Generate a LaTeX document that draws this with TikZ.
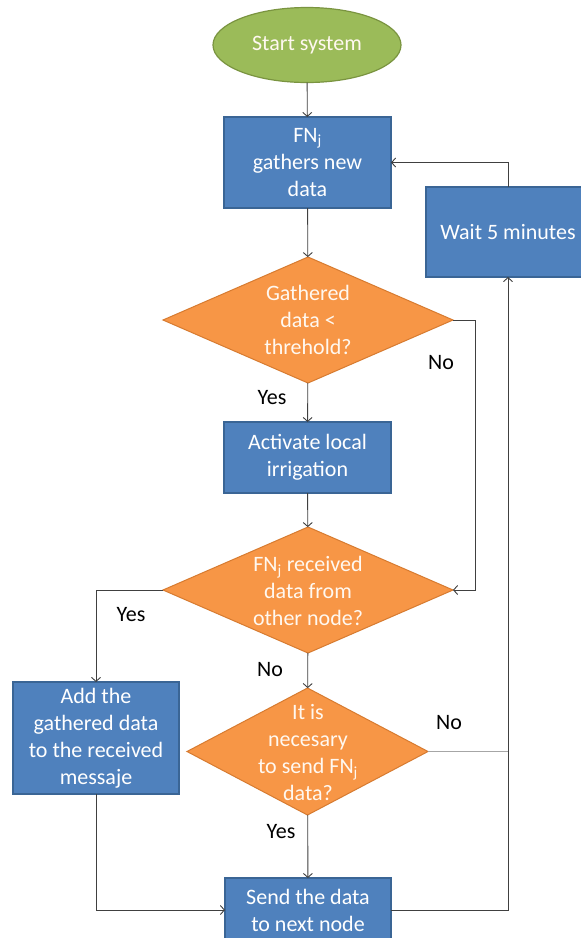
\documentclass[tikz,border=0pt]{standalone}
\usepackage{fontspec}
\setmainfont{Carlito}
\usetikzlibrary{shapes.geometric,arrows.meta}
\definecolor{boxblue}{HTML}{4F81BD}
\definecolor{boxblueline}{HTML}{3A6595}
\definecolor{diaorange}{HTML}{F79646}
\definecolor{diaorangeline}{HTML}{D77B30}
\definecolor{startgreen}{HTML}{9BBB59}
\definecolor{startgreenline}{HTML}{7A9440}
\definecolor{wire}{HTML}{404040}
\definecolor{lighttext}{HTML}{FFF8F0}
\tikzset{
  basefont/.style={font={\fontsize{22}{27}\selectfont}},
  procbox/.style={rectangle, draw=boxblueline, line width=1.2pt, fill=boxblue, text=white, align=center, inner sep=0pt, outer sep=0pt, basefont},
  decision/.style={diamond, draw=diaorangeline, line width=1pt, fill=diaorange, inner sep=0pt, outer sep=0pt},
  dtext/.style={text=lighttext, align=center, inner sep=0pt, basefont},
  startnode/.style={ellipse, draw=startgreenline, line width=1.2pt, fill=startgreen, text=lighttext, inner sep=0pt, outer sep=0pt, basefont},
  flow/.style={draw=wire, line width=0.9pt, -{Straight Barb[length=4pt,width=9pt]}},
  plainflow/.style={draw=wire, line width=0.9pt},
  lbl/.style={text=black, inner sep=0pt, basefont}
}
\begin{document}
\begin{tikzpicture}[x=1pt,y=-1pt]
\useasboundingbox (0,0) rectangle (581,938);
\clip (0,0) rectangle (581,938);
\fill[white] (0,0) rectangle (581,938);

\node[startnode, minimum width=188pt, minimum height=75pt] (start) at (307,45) {Start system};
\node[procbox, minimum width=167pt, minimum height=91pt] (gather) at (307.5,162.5) {FN\textsubscript{j}\\gathers new\\data};
\node[procbox, minimum width=164pt, minimum height=90pt] (wait) at (508,232) {Wait 5 minutes};

\node[decision, minimum width=290pt, minimum height=126pt] (d1) at (308,320) {};
\node[dtext] (d1t) at (d1) {Gathered\\data <\\threhold?};

\node[procbox, minimum width=167pt, minimum height=71pt] (act) at (307.5,457.5) {Activate local\\irrigation};

\node[decision, minimum width=290pt, minimum height=126pt] (d2) at (308,590) {};
\node[dtext] (d2t) at (308,591) {FN\textsubscript{j} received\\data from\\other node?};

\node[procbox, minimum width=166pt, minimum height=112pt] (add) at (96,738) {Add the\\gathered data\\to the received\\messaje};

\node[decision, minimum width=241pt, minimum height=127pt] (d3) at (307.5,751.5) {};
\node[dtext] (d3t) at (308,753) {It is\\necesary\\to send FN\textsubscript{j}\\data?};

\node[procbox, minimum width=166pt, minimum height=64pt] (send) at (308,910) {Send the data\\to next node};

% connectors
\draw[flow] (start) -- (gather);
\draw[flow] (gather) -- (d1);
\draw[flow] (d1) -- (act);
\draw[flow] (act) -- (d2);
\draw[flow] (d2) -- (d3);
\draw[flow] (d3) -- (send);
\draw[flow] (d1.east) -- ++(22,0) |- (d2.east);
\draw[flow] (d2.west) -| (add.north);
\draw[flow] (add.south) |- (send.west);
\draw[flow] (send.east) -| (wait.south);
\draw[flow] (wait.north) |- (gather.east);
\coordinate (join) at (wait.south |- d3.east);
\draw[draw=gray!70, line width=0.9pt] (d3.east) -- (join);

% labels
\node[lbl] (no1) at (441,363) {No};
\node[lbl] (yes1) at (272,398) {Yes};
\node[lbl] (yes2) at (131,615) {Yes};
\node[lbl] (no2) at (270,670) {No};
\node[lbl] (no3) at (449,723) {No};
\node[lbl] (yes3) at (281,832) {Yes};
\end{tikzpicture}
\end{document}
